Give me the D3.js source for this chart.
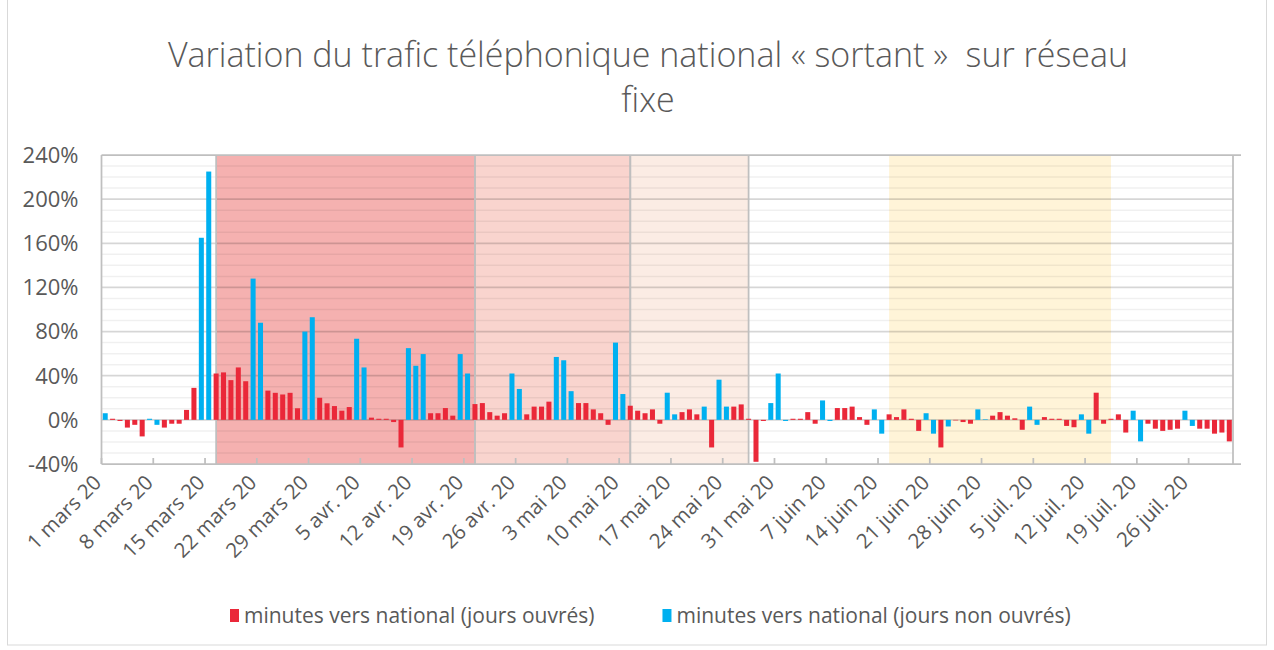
<!DOCTYPE html>
<html lang="fr">
<head>
<meta charset="utf-8">
<script src="https://cdn.jsdelivr.net/npm/d3@7"></script>
<style>
body { margin: 0; background: #fff; }
svg { display: block; font-family: "Open Sans", "Noto Sans", sans-serif; }
</style>
</head>
<body>
<svg width="1274" height="650"></svg>
<script>
// variation (%) par jour, du 1 mars au 31 juil. 2020 (une ligne = une semaine, dim -> sam)
const valeurs = [
	6, 1, -1, -7, -4.5, -15, 1,
	-4.5, -7, -3.5, -3.5, 9, 29, 165,
	225, 42, 43, 36, 47.5, 35, 128,
	88, 26.5, 24.5, 23, 24.5, 10.5, 80,
	93, 20, 15, 12.5, 8.3, 11.6, 73.5,
	47.5, 2, 1, 1, -2, -25, 65,
	49, 59.6, 6, 6, 10.7, 3.8, 59.6,
	42, 14.3, 15.2, 7, 3.8, 6, 42,
	28, 5, 12, 12, 16.5, 57, 54,
	26, 15.2, 15.2, 9.5, 6, -4.5, 70,
	23.4, 12.8, 8.3, 6, 9.5, -3.5, 24.6,
	5, 7, 9.5, 5, 12, -25, 36.4,
	12, 12, 14, 1, -38, -1, 15.2,
	42, -1, 1, 1, 7, -3.5, 17.6,
	-1, 10.7, 10.7, 12, 2.5, -4.5, 9.5,
	-12.5, 5, 2.5, 9.5, 1, -10, 6,
	-12.5, -25, -6, -0.5, -2, -3.5, 9.5,
	0.5, 3.8, 7, 3.8, 1.4, -9, 12,
	-4.5, 2.5, 1, 1, -5.5, -6.7, 5,
	-12.5, 24.6, -3.5, 1, 5, -11.5, 8.3,
	-19.5, -3.5, -8, -10, -9, -8, 8.3,
	-5.5, -8, -8, -12.5, -11.5, -19.5
];

// rang des jours non ouvrés (week-ends et fériés)
const nonOuvres = [0, 6, 7, 13, 14, 20, 21, 27, 28, 34, 35, 41, 42, 43, 48, 49,
	55, 56, 61, 62, 63, 69, 70, 76, 77, 81, 83, 84, 90, 91, 92, 97, 98,
	104, 105, 111, 112, 114, 118, 119, 125, 126, 132, 133, 139, 140, 146, 147];

const premierJour = new Date(2020, 2, 1);

const zones = [
	{ debut: '2020-03-16', fin: '2020-04-20', couleur: '#f5b1b0', bord: true },
	{ debut: '2020-04-20', fin: '2020-05-11', couleur: '#f9d4ce', bord: true },
	{ debut: '2020-05-11', fin: '2020-05-27', couleur: '#fbece4', bord: true },
	{ debut: '2020-06-15', fin: '2020-07-15', couleur: '#fff4d8', bord: false }
];

const ticksY = [-40, 0, 40, 80, 120, 160, 200, 240];

const series = [
	{ nom: 'minutes vers national (jours ouvrés)', couleur: '#ea2839' },
	{ nom: 'minutes vers national (jours non ouvrés)', couleur: '#00b0f0' }
];

const titre = ['Variation du trafic téléphonique national « sortant »  sur réseau', 'fixe'];

const margin = { top: 155, right: 41, bottom: 186, left: 101.5 };
const W = 1274, H = 650;
const plotW = W - margin.left - margin.right;
const plotH = H - margin.top - margin.bottom;

const frLocale = d3.timeFormatLocale({
	dateTime: '%A %e %B %Y à %X', date: '%d/%m/%Y', time: '%H:%M:%S',
	periods: ['AM', 'PM'],
	days: ['dimanche', 'lundi', 'mardi', 'mercredi', 'jeudi', 'vendredi', 'samedi'],
	shortDays: ['dim.', 'lun.', 'mar.', 'mer.', 'jeu.', 'ven.', 'sam.'],
	months: ['janvier', 'février', 'mars', 'avril', 'mai', 'juin', 'juillet', 'août', 'septembre', 'octobre', 'novembre', 'décembre'],
	shortMonths: ['janv.', 'févr.', 'mars', 'avr.', 'mai', 'juin', 'juil.', 'août', 'sept.', 'oct.', 'nov.', 'déc.']
});
const fmtJour = frLocale.format('%-d %b %y');
const cle = d3.timeFormat('%Y-%m-%d');

const jours = valeurs.map((v, i) => d3.timeDay.offset(premierJour, i));
const donnees = valeurs.map((v, i) => ({
	jour: cle(jours[i]),
	date: jours[i],
	valeur: v,
	serie: nonOuvres.includes(i) ? 1 : 0
}));

const svg = d3.select('svg');

// cadre du graphique
svg.append('rect')
	.attr('x', 7.5).attr('y', -1)
	.attr('width', 1259).attr('height', 646)
	.attr('fill', 'none')
	.attr('stroke', '#d9d9d9');

const g = svg.append('g')
	.attr('transform', `translate(${margin.left},${margin.top})`);

const x = d3.scaleBand()
	.domain(donnees.map(d => d.jour))
	.range([0, plotW])
	.paddingInner(0.32)
	.paddingOuter(0.16);

const y = d3.scaleLinear()
	.domain([-40, 240])
	.range([plotH, 0]);

const centre = j => x(j) + x.bandwidth() / 2;

// zones colorées
g.selectAll('rect.zone')
	.data(zones)
	.enter()
	.append('rect')
	.attr('class', 'zone')
	.attr('x', d => centre(d.debut))
	.attr('y', 0)
	.attr('width', d => centre(d.fin) - centre(d.debut))
	.attr('height', plotH)
	.attr('fill', d => d.couleur);

// quadrillage
const mineurs = d3.range(-40, 241, 10).filter(v => !ticksY.includes(v));
g.selectAll('line.mineur')
	.data(mineurs)
	.enter()
	.append('line')
	.attr('x1', 0).attr('x2', plotW)
	.attr('y1', d => y(d)).attr('y2', d => y(d))
	.attr('stroke', 'rgba(0,0,0,0.06)')
	.attr('stroke-width', 1.5);

g.selectAll('line.majeur')
	.data(ticksY.filter(v => v > -40 && v < 240))
	.enter()
	.append('line')
	.attr('x1', 0).attr('x2', plotW)
	.attr('y1', d => y(d)).attr('y2', d => y(d))
	.attr('stroke', 'rgba(0,0,0,0.16)')
	.attr('stroke-width', 1.75);

// bordures des zones
zones.filter(d => d.bord).forEach(d => {
	[d.debut, d.fin].forEach(j => {
		g.append('line')
			.attr('x1', centre(j)).attr('x2', centre(j))
			.attr('y1', 0).attr('y2', plotH)
			.attr('stroke', '#bfbfbf')
			.attr('stroke-width', 1.75);
	});
});

// barres
g.selectAll('rect.barre')
	.data(donnees)
	.enter()
	.append('rect')
	.attr('class', 'barre')
	.attr('x', d => x(d.jour))
	.attr('width', x.bandwidth())
	.attr('y', d => y(Math.max(0, d.valeur)))
	.attr('height', d => Math.abs(y(d.valeur) - y(0)))
	.attr('fill', d => series[d.serie].couleur);

// axes
const axe = '#bfbfbf';
g.append('line').attr('x1', 0).attr('x2', plotW + 8).attr('y1', 0).attr('y2', 0)
	.attr('stroke', axe).attr('stroke-width', 1.75);
g.append('line').attr('x1', 0).attr('x2', plotW + 8).attr('y1', plotH).attr('y2', plotH)
	.attr('stroke', axe).attr('stroke-width', 1.75);
g.append('line').attr('x1', 0).attr('x2', 0).attr('y1', 0).attr('y2', plotH)
	.attr('stroke', axe).attr('stroke-width', 1.75);
g.append('line').attr('x1', plotW).attr('x2', plotW).attr('y1', 0).attr('y2', plotH)
	.attr('stroke', axe).attr('stroke-width', 1.75);

// axe Y
g.selectAll('text.ty')
	.data(ticksY)
	.enter()
	.append('text')
	.attr('x', -23)
	.attr('y', d => y(d))
	.attr('dy', '0.36em')
	.attr('text-anchor', 'end')
	.attr('fill', '#595959')
	.style('font-size', '22px')
	.text(d => d + '%');

// axe X : une graduation par semaine
const step = x.step();
const semaines = donnees.filter((d, i) => i % 7 === 0);
const tickX = d => x(d.jour) - step * x.paddingInner() / 2;

g.selectAll('line.tx')
	.data(semaines)
	.enter()
	.append('line')
	.attr('x1', tickX).attr('x2', tickX)
	.attr('y1', plotH).attr('y2', plotH - 6)
	.attr('stroke', axe)
	.attr('stroke-width', 1.75);

g.selectAll('text.tx')
	.data(semaines)
	.enter()
	.append('text')
	.attr('transform', d => `translate(${tickX(d) + 1},${plotH + 20}) rotate(-45)`)
	.attr('text-anchor', 'end')
	.attr('fill', '#595959')
	.style('font-size', '20.5px')
	.text(d => fmtJour(d.date));

// titre
svg.selectAll('text.titre')
	.data(titre)
	.enter()
	.append('text')
	.attr('x', 648)
	.attr('y', (d, i) => 67 + i * 45)
	.attr('text-anchor', 'middle')
	.attr('fill', '#595959')
	.style('font-size', '34px')
	.style('font-weight', 300)
	.style('white-space', 'pre')
	.text(d => d);

// légende
const leg = svg.append('g').attr('transform', 'translate(230,609)');
let lx = 0;
series.forEach(s => {
	const item = leg.append('g').attr('transform', `translate(${lx},0)`);
	item.append('rect')
		.attr('width', 9).attr('height', 13)
		.attr('fill', s.couleur);
	const t = item.append('text')
		.attr('x', 14).attr('y', 7)
		.attr('dy', '0.35em')
		.attr('fill', '#595959')
		.style('font-size', '21px')
		.text(s.nom);
	lx += 14 + t.node().getComputedTextLength() + 68;
});
</script>
</body>
</html>
